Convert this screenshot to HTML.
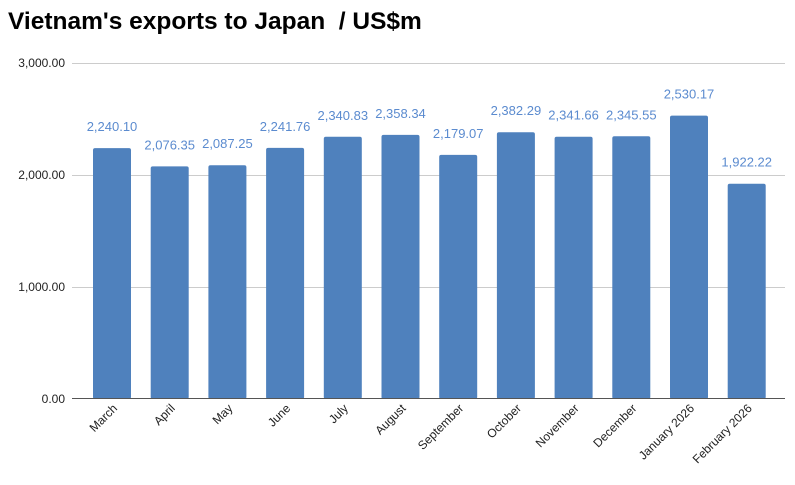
<!DOCTYPE html>
<html><head><meta charset="utf-8"><style>
body{margin:0;background:#fff;}
svg{display:block;font-family:"Liberation Sans",Arial,sans-serif;}
</style></head><body>
<svg width="795" height="485" xmlns="http://www.w3.org/2000/svg">
<text x="8" y="29" font-size="24.5" font-weight="bold" fill="#000">Vietnam's exports to Japan &#160;/ US$m</text>
<g stroke="#cccccc" stroke-width="1">
<line x1="72" y1="63.5" x2="785" y2="63.5"/>
<line x1="72" y1="175.5" x2="785" y2="175.5"/>
<line x1="72" y1="287.5" x2="785" y2="287.5"/>
</g>
<g font-size="12" fill="#222" text-anchor="end">
<text x="65" y="67">3,000.00</text>
<text x="65" y="179">2,000.00</text>
<text x="65" y="291">1,000.00</text>
<text x="65" y="403">0.00</text>
</g>
<g fill="#4f81bd">
<rect x="93" y="148.1" width="38" height="250.9" rx="2"/>
<rect x="150.7" y="166.4" width="38" height="232.6" rx="2"/>
<rect x="208.4" y="165.2" width="38" height="233.8" rx="2"/>
<rect x="266.1" y="147.9" width="38" height="251.1" rx="2"/>
<rect x="323.8" y="136.8" width="38" height="262.2" rx="2"/>
<rect x="381.5" y="134.9" width="38" height="264.1" rx="2"/>
<rect x="439.2" y="154.9" width="38" height="244.1" rx="2"/>
<rect x="496.9" y="132.2" width="38" height="266.8" rx="2"/>
<rect x="554.6" y="136.7" width="38" height="262.3" rx="2"/>
<rect x="612.3" y="136.3" width="38" height="262.7" rx="2"/>
<rect x="670" y="115.6" width="38" height="283.4" rx="2"/>
<rect x="727.7" y="183.7" width="38" height="215.3" rx="2"/>
</g>
<line x1="72" y1="398.5" x2="785" y2="398.5" stroke="#555" stroke-width="1"/>
<g font-size="13" fill="#5b8bcf" text-anchor="middle">
<text x="112" y="131.1">2,240.10</text>
<text x="169.7" y="149.4">2,076.35</text>
<text x="227.4" y="148.2">2,087.25</text>
<text x="285.1" y="130.9">2,241.76</text>
<text x="342.8" y="119.8">2,340.83</text>
<text x="400.5" y="117.9">2,358.34</text>
<text x="458.2" y="137.9">2,179.07</text>
<text x="515.9" y="115.2">2,382.29</text>
<text x="573.6" y="119.7">2,341.66</text>
<text x="631.3" y="119.3">2,345.55</text>
<text x="689" y="98.6">2,530.17</text>
<text x="746.7" y="166.7">1,922.22</text>
</g>
<g font-size="12" fill="#222" text-anchor="end">
<text transform="translate(118,409) rotate(-45)">March</text>
<text transform="translate(175.7,409) rotate(-45)">April</text>
<text transform="translate(233.4,409) rotate(-45)">May</text>
<text transform="translate(291.1,409) rotate(-45)">June</text>
<text transform="translate(348.8,409) rotate(-45)">July</text>
<text transform="translate(406.5,409) rotate(-45)">August</text>
<text transform="translate(464.2,409) rotate(-45)">September</text>
<text transform="translate(521.9,409) rotate(-45)">October</text>
<text transform="translate(579.6,409) rotate(-45)">November</text>
<text transform="translate(637.3,409) rotate(-45)">December</text>
<text transform="translate(695,409) rotate(-45)">January 2026</text>
<text transform="translate(752.7,409) rotate(-45)">February 2026</text>
</g>
</svg>
</body></html>
